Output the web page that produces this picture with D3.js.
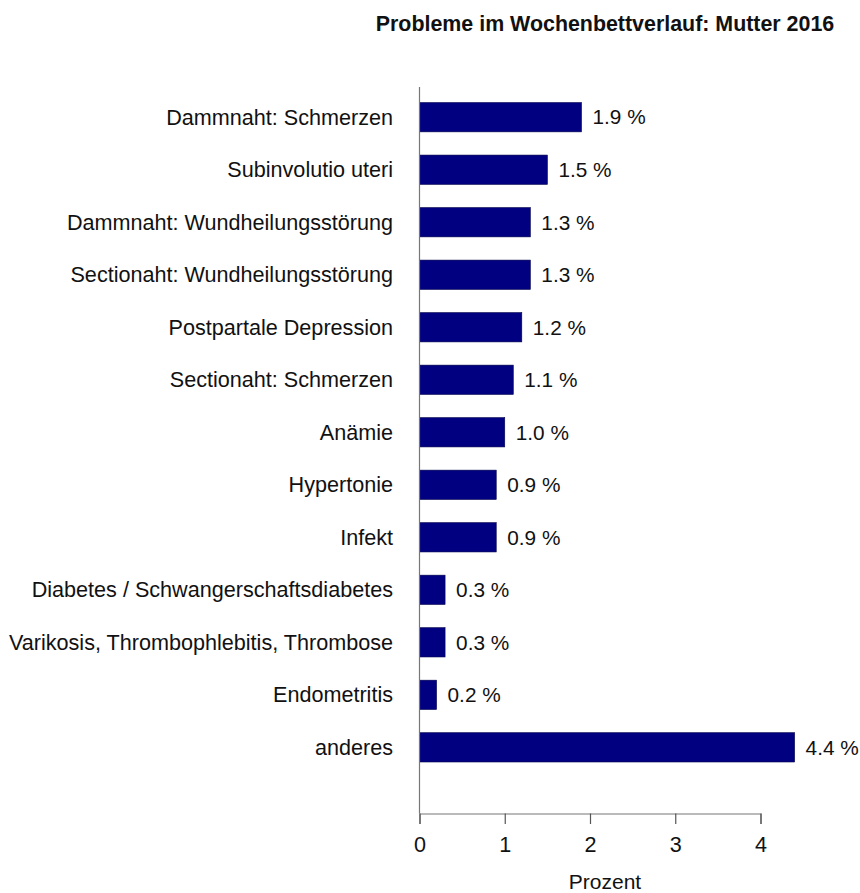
<!DOCTYPE html>
<html>
<head>
<meta charset="utf-8">
<script src="https://cdn.jsdelivr.net/npm/d3@7"></script>
<style>
  html, body { margin: 0; padding: 0; background: #fff; }
  svg { display: block; }
  text { font-family: "Liberation Sans", Arial, sans-serif; fill: #111; }
</style>
</head>
<body>
<svg id="chart" width="860" height="893"></svg>
<script>
// Wochenbett-Probleme der Mutter 2016, Anteil in Prozent
const categories = [
  "Dammnaht: Schmerzen",
  "Subinvolutio uteri",
  "Dammnaht: Wundheilungsstörung",
  "Sectionaht: Wundheilungsstörung",
  "Postpartale Depression",
  "Sectionaht: Schmerzen",
  "Anämie",
  "Hypertonie",
  "Infekt",
  "Diabetes / Schwangerschaftsdiabetes",
  "Varikosis, Thrombophlebitis, Thrombose",
  "Endometritis",
  "anderes"
];
const values = [1.9, 1.5, 1.3, 1.3, 1.2, 1.1, 1.0, 0.9, 0.9, 0.3, 0.3, 0.2, 4.4];
const xTicks = [0, 1, 2, 3, 4];
const title = "Probleme im Wochenbettverlauf: Mutter 2016";
const xTitle = "Prozent";

const svg = d3.select("#chart");

const x = d3.scaleLinear().domain([0, 4]).range([419.5, 760.5]);
const y = d3.scaleBand()
  .domain(categories)
  .range([90.95, 773.6])
  .paddingInner(0.442)
  .paddingOuter(0.221);

const axisTop = 87, axisBottom = 813.5;
const centerX = 605;

// title
svg.append("text")
  .attr("x", centerX)
  .attr("y", 31)
  .attr("text-anchor", "middle")
  .style("font-size", "21.4px")
  .style("font-weight", "bold")
  .text(title);

// bars
svg.append("g").selectAll("rect")
  .data(values)
  .join("rect")
  .attr("x", x(0))
  .attr("y", (d, i) => y(categories[i]))
  .attr("width", d => x(d) - x(0))
  .attr("height", y.bandwidth())
  .attr("fill", "#000080")
  .attr("stroke", "#00004a")
  .attr("stroke-width", 0.6);

// value labels
svg.append("g").selectAll("text")
  .data(values)
  .join("text")
  .attr("x", d => x(d) + 11)
  .attr("y", (d, i) => y(categories[i]) + y.bandwidth() / 2)
  .attr("dy", "0.35em")
  .style("font-size", "20.8px")
  .text(d => d.toFixed(1) + " %");

// category labels
svg.append("g").selectAll("text")
  .data(categories)
  .join("text")
  .attr("x", 393)
  .attr("y", d => y(d) + y.bandwidth() / 2)
  .attr("dy", "0.35em")
  .attr("text-anchor", "end")
  .style("font-size", "21.6px")
  .text(d => d);

// vertical baseline at 0
svg.append("line")
  .attr("x1", x(0)).attr("x2", x(0))
  .attr("y1", axisTop).attr("y2", axisBottom)
  .attr("stroke", "#777").attr("stroke-width", 1.2);

// x axis
const xAxis = d3.axisBottom(x)
  .tickValues(xTicks)
  .tickSize(10.5)
  .tickPadding(13)
  .tickFormat(d3.format("d"));

const gx = svg.append("g")
  .attr("transform", `translate(0,${axisBottom})`)
  .call(xAxis);
gx.select(".domain").attr("stroke", "#777").attr("stroke-width", 1.2);
gx.selectAll(".tick line").attr("stroke", "#555").attr("stroke-width", 1.2);
gx.selectAll(".tick text")
  .style("font-size", "21.6px")
  .style("font-family", "'Liberation Sans', Arial, sans-serif")
  .attr("fill", "#111");

// x axis title
svg.append("text")
  .attr("x", centerX)
  .attr("y", 889)
  .attr("text-anchor", "middle")
  .style("font-size", "21px")
  .text(xTitle);
</script>
</body>
</html>
